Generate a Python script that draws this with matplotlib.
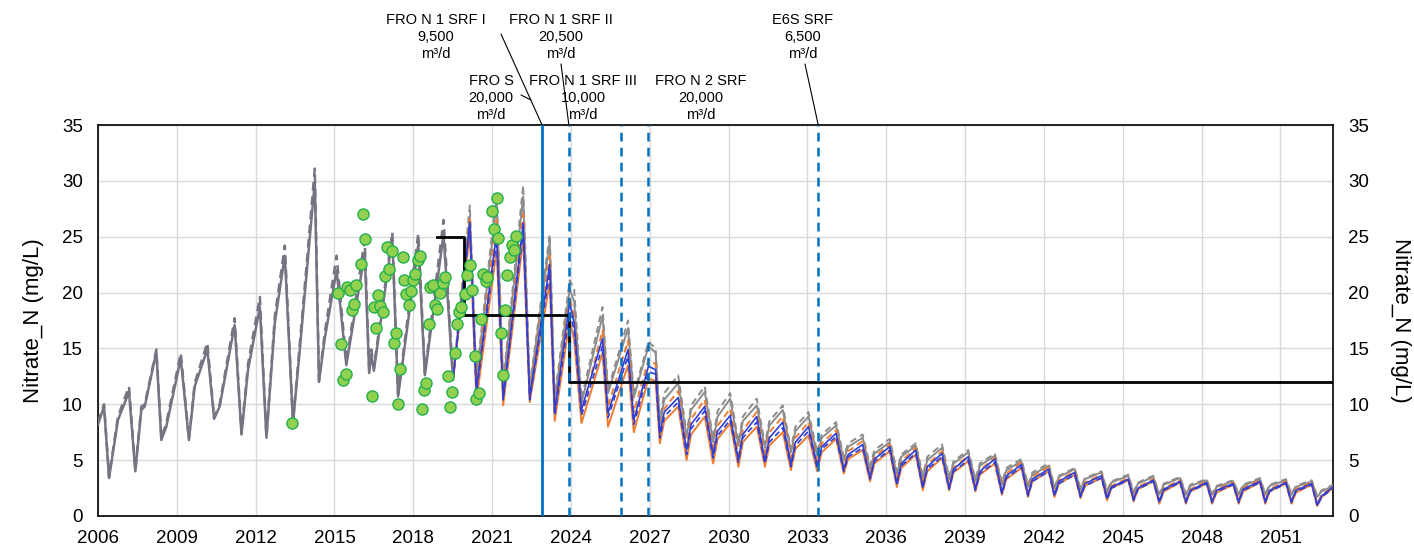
import matplotlib
matplotlib.use('Agg')
import matplotlib.pyplot as plt

plt.rcParams['font.family'] = ['Liberation Sans', 'DejaVu Sans']

# ---------------- data ----------------
# historical simulated (all scenarios identical), decimal years
hist_t = [2006.00, 2006.23, 2006.42, 2006.76, 2007.18, 2007.42, 2007.65, 2007.78,
          2008.22, 2008.41, 2008.60, 2009.15, 2009.46, 2009.68, 2010.16, 2010.42,
          2010.63, 2011.20, 2011.46, 2011.71, 2012.16, 2012.41, 2012.73, 2013.11,
          2013.42, 2013.68, 2014.25, 2014.41, 2014.63, 2015.08, 2015.45, 2016.15,
          2016.32, 2016.40, 2016.50, 2017.20, 2017.42, 2018.19, 2018.44, 2019.15,
          2019.51]
hist_solid = [8.2, 9.8, 3.4, 8.6, 11.1, 4.0, 9.5, 9.8,
              14.7, 6.8, 8.0, 14.1, 6.8, 11.6, 14.9, 8.7,
              9.8, 17.1, 7.3, 13.1, 18.7, 7.0, 17.3, 23.3,
              8.3, 14.9, 29.9, 12.0, 15.9, 22.0, 13.5, 23.5,
              12.8, 14.5, 13.0, 24.9, 10.7, 24.3, 12.6, 25.2,
              12.2]
hist_dashed = [8.4, 10.0, 3.5, 8.9, 11.6, 4.1, 9.8, 10.0,
               14.9, 7.0, 8.3, 14.6, 6.9, 11.9, 15.5, 8.8,
               10.0, 17.7, 7.4, 13.6, 19.6, 7.1, 17.9, 24.2,
               8.4, 15.4, 31.1, 12.1, 16.4, 23.3, 13.8, 24.7,
               13.0, 14.9, 13.3, 25.4, 10.9, 25.3, 12.8, 26.5,
               12.4]

# future scenarios (2019.5 -> 2053)
fut_t = [2019.51, 2020.15, 2020.40, 2021.17, 2021.42, 2022.18, 2022.43, 2023.19, 2023.38,
         2023.95, 2024.12, 2024.40, 2025.20, 2025.41, 2026.17, 2026.39, 2026.95, 2027.22,
         2027.38, 2027.55, 2028.08,
         2028.40, 2028.57, 2029.09,
         2029.41, 2029.58, 2030.06,
         2030.37, 2030.54, 2031.07,
         2031.38, 2031.55, 2032.06,
         2032.37, 2032.54, 2033.04,
         2033.37, 2033.54, 2034.09,
         2034.38, 2034.55, 2035.10,
         2035.38, 2035.55, 2036.13,
         2036.40, 2036.57, 2037.12,
         2037.39, 2037.56, 2038.12,
         2038.39, 2038.56, 2039.12,
         2039.39, 2039.56, 2040.13,
         2040.40, 2040.57, 2041.14,
         2041.39, 2041.56, 2042.18,
         2042.40, 2042.57, 2043.17,
         2043.39, 2043.56, 2044.19,
         2044.40, 2044.57, 2045.21,
         2045.41, 2045.58, 2046.16,
         2046.39, 2046.56, 2047.18,
         2047.40, 2047.57, 2048.19,
         2048.40, 2048.57, 2049.20,
         2049.41, 2049.58, 2050.22,
         2050.42, 2050.59, 2051.21,
         2051.42, 2051.59, 2052.19,
         2052.40, 2052.57, 2053.00]
gray_dashed = [12.4, 27.8, 12.5, 29.0, 12.0, 29.6, 11.6, 25.2, 10.6,
               21.1, 20.3, 10.5, 18.7, 11.3, 17.5, 10.9, 15.6, 15.0,
               8.5, 11.0, 12.6,
               7.4, 9.9, 11.6,
               6.9, 9.4, 11.0,
               6.6, 8.9, 10.5,
               6.4, 8.5, 9.9,
               6.0, 8.0, 9.3,
               5.7, 7.3, 8.4,
               5.3, 6.5, 7.3,
               4.5, 5.9, 6.9,
               4.0, 5.5, 6.5,
               3.6, 5.3, 6.4,
               3.5, 4.9, 5.9,
               3.3, 4.7, 5.6,
               3.0, 4.3, 5.1,
               2.8, 3.9, 4.7,
               2.6, 3.6, 4.3,
               2.5, 3.4, 4.0,
               2.3, 3.1, 3.7,
               2.2, 3.0, 3.6,
               2.0, 2.9, 3.5,
               2.0, 2.8, 3.3,
               2.0, 2.7, 3.2,
               2.0, 2.8, 3.4,
               2.0, 2.8, 3.3,
               2.0, 2.7, 3.2,
               1.8, 2.3, 2.8]
gray_solid = [12.2, 26.8, 12.2, 28.0, 11.7, 28.6, 11.3, 24.6, 10.2,
              20.3, 19.2, 10.1, 17.9, 11.0, 16.8, 10.6, 15.2, 14.6,
              8.2, 10.4, 11.9,
              7.1, 9.5, 11.1,
              6.6, 8.9, 10.5,
              6.3, 8.5, 9.9,
              6.1, 8.1, 9.5,
              5.7, 7.6, 8.9,
              5.4, 7.0, 8.1,
              5.0, 6.2, 7.0,
              4.2, 5.6, 6.6,
              3.7, 5.3, 6.3,
              3.4, 5.0, 6.1,
              3.3, 4.7, 5.7,
              3.1, 4.5, 5.4,
              2.8, 4.1, 4.9,
              2.6, 3.7, 4.5,
              2.5, 3.5, 4.2,
              2.3, 3.3, 3.9,
              2.1, 3.0, 3.6,
              2.0, 2.9, 3.5,
              1.9, 2.8, 3.4,
              1.9, 2.7, 3.2,
              1.9, 2.6, 3.1,
              1.9, 2.7, 3.3,
              1.9, 2.7, 3.2,
              1.9, 2.6, 3.1,
              1.7, 2.2, 2.7]
orange_dashed = [12.2, 26.8, 11.6, 26.5, 10.9, 27.0, 10.8, 23.3, 9.4,
                 19.6, 17.8, 9.2, 16.6, 9.8, 15.7, 9.3, 14.0, 13.6,
                 7.2, 9.6, 11.2,
                 6.2, 8.7, 10.4,
                 5.8, 8.1, 9.6,
                 5.4, 7.7, 9.3,
                 5.3, 7.5, 8.9,
                 4.9, 7.0, 8.4,
                 4.8, 6.5, 7.7,
                 4.4, 5.8, 6.7,
                 3.6, 5.3, 6.4,
                 3.1, 4.9, 6.1,
                 2.8, 4.6, 5.8,
                 2.7, 4.3, 5.4,
                 2.5, 4.1, 5.2,
                 2.3, 3.8, 4.8,
                 2.1, 3.5, 4.4,
                 2.0, 3.2, 4.0,
                 1.9, 3.0, 3.7,
                 1.7, 2.7, 3.4,
                 1.6, 2.6, 3.3,
                 1.4, 2.5, 3.2,
                 1.4, 2.4, 3.1,
                 1.4, 2.4, 3.0,
                 1.4, 2.5, 3.2,
                 1.4, 2.4, 3.1,
                 1.4, 2.4, 3.0,
                 1.1, 1.9, 2.6]
blue_solid = [12.2, 26.3, 11.3, 25.3, 10.6, 26.2, 10.6, 22.5, 9.3,
              19.1, 17.3, 9.5, 15.9, 9.2, 14.9, 8.6, 13.4, 13.1,
              7.4, 9.3, 10.6,
              5.9, 8.2, 9.8,
              5.5, 7.6, 9.0,
              5.0, 7.3, 8.9,
              4.9, 7.0, 8.4,
              4.6, 6.6, 8.0,
              4.5, 6.2, 7.4,
              4.2, 5.5, 6.4,
              3.4, 5.1, 6.2,
              2.9, 4.7, 5.9,
              2.6, 4.4, 5.6,
              2.5, 4.2, 5.3,
              2.4, 4.0, 5.1,
              2.1, 3.6, 4.6,
              1.9, 3.3, 4.2,
              1.9, 3.1, 3.9,
              1.8, 2.9, 3.6,
              1.6, 2.6, 3.3,
              1.5, 2.5, 3.2,
              1.3, 2.4, 3.1,
              1.3, 2.3, 3.0,
              1.3, 2.3, 2.9,
              1.3, 2.4, 3.1,
              1.3, 2.3, 3.0,
              1.3, 2.3, 2.9,
              1.0, 1.8, 2.6]
blue_dashed = [12.2, 25.8, 11.0, 24.7, 10.4, 25.5, 10.4, 21.8, 9.0,
               18.3, 16.6, 9.0, 15.2, 8.8, 14.3, 8.2, 12.9, 12.7,
               7.0, 8.9, 10.2,
               5.5, 7.8, 9.4,
               5.2, 7.2, 8.6,
               4.8, 7.0, 8.4,
               4.7, 6.6, 7.9,
               4.4, 6.3, 7.6,
               4.3, 6.0, 7.1,
               4.0, 5.3, 6.1,
               3.3, 4.9, 5.9,
               2.8, 4.5, 5.6,
               2.5, 4.2, 5.3,
               2.4, 4.0, 5.0,
               2.3, 3.8, 4.8,
               2.0, 3.4, 4.4,
               1.8, 3.1, 4.0,
               1.8, 2.9, 3.7,
               1.7, 2.7, 3.4,
               1.5, 2.5, 3.2,
               1.4, 2.4, 3.1,
               1.2, 2.3, 3.0,
               1.2, 2.2, 2.9,
               1.2, 2.2, 2.8,
               1.2, 2.3, 3.0,
               1.2, 2.2, 2.9,
               1.2, 2.2, 2.8,
               0.9, 1.7, 2.5]
orange_solid = [12.2, 25.3, 10.3, 23.8, 9.9, 24.8, 10.2, 20.9, 8.5,
                17.5, 15.8, 8.3, 14.6, 8.0, 13.5, 7.5, 12.3, 12.1,
                6.5, 8.5, 9.8,
                5.0, 7.3, 8.9,
                4.7, 6.9, 8.3,
                4.4, 6.6, 8.0,
                4.4, 6.3, 7.5,
                4.1, 6.0, 7.2,
                4.0, 5.7, 6.9,
                3.8, 5.1, 5.9,
                3.1, 4.7, 5.8,
                2.6, 4.3, 5.5,
                2.3, 4.0, 5.2,
                2.3, 3.9, 4.9,
                2.2, 3.7, 4.7,
                1.9, 3.3, 4.3,
                1.7, 3.1, 4.0,
                1.7, 2.9, 3.7,
                1.6, 2.7, 3.4,
                1.4, 2.5, 3.2,
                1.3, 2.4, 3.1,
                1.1, 2.2, 3.0,
                1.1, 2.2, 2.9,
                1.1, 2.1, 2.8,
                1.1, 2.2, 3.0,
                1.1, 2.2, 2.9,
                1.1, 2.1, 2.8,
                0.9, 1.7, 2.5]

# observed concentrations
obs_t = [2013.40, 2015.14, 2015.24, 2015.33, 2015.43, 2015.49, 2015.58, 2015.83, 2015.65,
         2015.75, 2016.00, 2016.09, 2016.16, 2016.42, 2016.57, 2016.49, 2016.65, 2016.72,
         2016.83, 2016.91, 2016.98, 2017.08, 2017.17, 2017.26, 2017.33, 2017.40, 2017.49,
         2017.59, 2017.64, 2017.71, 2017.83, 2017.93, 2017.99, 2018.08, 2018.16, 2018.25,
         2018.33, 2018.41, 2018.50, 2018.59, 2018.65, 2018.75, 2018.82, 2018.90, 2019.01,
         2019.13, 2019.22, 2019.32, 2019.41, 2019.49, 2019.58, 2019.67, 2019.74, 2019.83,
         2019.96, 2020.06, 2020.15, 2020.24, 2020.34, 2020.40, 2020.49, 2020.57, 2020.66,
         2020.75, 2020.82, 2020.99, 2021.17, 2021.08, 2021.23, 2021.33, 2021.42, 2021.50,
         2021.58, 2021.67, 2021.76, 2021.84, 2021.90]
obs_v = [8.3, 20.0, 15.4, 12.2, 12.7, 20.5, 20.2, 20.7, 18.4,
         19.0, 22.6, 27.0, 24.8, 10.7, 16.8, 18.7, 19.8, 18.8,
         18.3, 21.5, 24.1, 22.1, 23.7, 15.5, 16.4, 10.0, 13.2,
         23.2, 21.1, 19.9, 18.9, 20.1, 21.1, 21.7, 22.9, 23.3,
         9.6, 11.3, 11.9, 17.2, 20.5, 20.7, 18.9, 18.5, 20.0,
         20.9, 21.4, 12.5, 9.8, 11.1, 14.6, 17.2, 18.3, 18.7,
         19.9, 21.6, 22.5, 20.2, 14.3, 10.5, 11.0, 17.6, 21.7,
         21.0, 21.4, 27.3, 28.5, 25.7, 24.9, 16.4, 12.6, 18.4,
         21.6, 23.2, 24.3, 23.8, 25.1]

# target (step) line
target_t = [2018.92, 2019.92, 2023.92, 2053.00]
target_v = [25, 18, 12, 12]

# project start dates
event_t = [2022.90, 2023.92, 2025.92, 2026.94, 2033.41]
event_style = ['solid', 'dashed', 'dashed', 'dashed', 'dashed']

x_ticks = list(range(2006, 2052, 3))
y_ticks = [0, 5, 10, 15, 20, 25, 30, 35]

# ---------------- figure ----------------
W, H = 1414, 554
fig = plt.figure(figsize=(W / 100, H / 100), dpi=100)
L, R, T, B = 98, 1333, 125, 516
ax = fig.add_axes([L / W, (H - B) / H, (R - L) / W, (B - T) / H])

ax.set_xlim(2006, 2053)
ax.set_ylim(0, 35)
ax.set_xticks(x_ticks)
ax.set_yticks(y_ticks)
ax.grid(True, color='#D9D9D9', lw=1.0, zorder=0)
ax.set_axisbelow(True)
for s in ax.spines.values():
    s.set_color('black')
    s.set_linewidth(1.2)
ax.tick_params(length=0, labelsize=13.5, pad=11)
ax.tick_params(axis='x', pad=10)
ax.set_ylabel('Nitrate_N (mg/L)', fontsize=16, labelpad=13)

ax2 = ax.twinx()
ax2.set_ylim(0, 35)
ax2.set_yticks(y_ticks)
ax2.tick_params(length=0, labelsize=13.5, pad=11)
ax2.set_ylabel('Nitrate_N (mg/L)', fontsize=16, rotation=270, labelpad=30)
for s in ax2.spines.values():
    s.set_visible(False)

hist_col = '#787382'
gray = '#8C8C8C'
orange = '#ED7D31'
blue = '#2F3FD6'
dash = (0, (3.5, 2.2))

ax.plot(hist_t, hist_dashed, color=hist_col, lw=1.8, ls=dash, zorder=3)
ax.plot(hist_t, hist_solid, color=hist_col, lw=1.8, zorder=3)

ax.plot(fut_t, gray_dashed, color=gray, lw=1.4, ls=dash, zorder=3)
ax.plot(fut_t, gray_solid, color=gray, lw=1.4, zorder=3)
ax.plot(fut_t, orange_dashed, color=orange, lw=1.4, ls=dash, zorder=3)
ax.plot(fut_t, orange_solid, color=orange, lw=1.4, zorder=3)
ax.plot(fut_t, blue_dashed, color=blue, lw=1.2, ls=dash, zorder=3)
ax.plot(fut_t, blue_solid, color=blue, lw=1.2, zorder=3)

ax.step(target_t, target_v, where='post', color='black', lw=2.0, zorder=4)

ax.plot(obs_t, obs_v, ls='none', marker='o', ms=8, mfc='#92D050', mec='#22B04A',
        mew=1.0, zorder=5)

for t, st in zip(event_t, event_style):
    if st == 'solid':
        ax.axvline(t, color='#0070C0', lw=2.0, zorder=6)
    else:
        ax.axvline(t, color='#0070C0', lw=1.8, ls=(0, (3.5, 2.5)), zorder=6)

# ---------------- annotations ----------------
labels = [
    ('FRO N 1 SRF I\n9,500\nm³/d', 436, 37),
    ('FRO N 1 SRF II\n20,500\nm³/d', 561, 37),
    ('E6S SRF\n6,500\nm³/d', 803, 37),
    ('FRO S\n20,000\nm³/d', 491, 98),
    ('FRO N 1 SRF III\n10,000\nm³/d', 583, 98),
    ('FRO N 2 SRF\n20,000\nm³/d', 701, 98),
]
for txt, x, y in labels:
    fig.text(x / W, 1 - y / H, txt, ha='center', va='center', fontsize=10.5,
             linespacing=1.25)

leaders = [
    ((501, 34), event_t[0]),
    ((561, 64), event_t[1]),
    ((805, 64), event_t[4]),
]
for (px, py), t in leaders:
    ax.annotate('', xy=(t, 35), xycoords='data', xytext=(px, H - py),
                textcoords='figure pixels',
                arrowprops=dict(arrowstyle='-', lw=0.8, color='black',
                                shrinkA=0, shrinkB=0), annotation_clip=False)
# short leader for FRO S joining the first leader
ax.annotate('', xy=(531, H - 100), xycoords='figure pixels', xytext=(521, H - 95),
            textcoords='figure pixels',
            arrowprops=dict(arrowstyle='-', lw=0.8, color='black', shrinkA=0, shrinkB=0),
            annotation_clip=False)

fig.savefig('out.png', dpi=100)
